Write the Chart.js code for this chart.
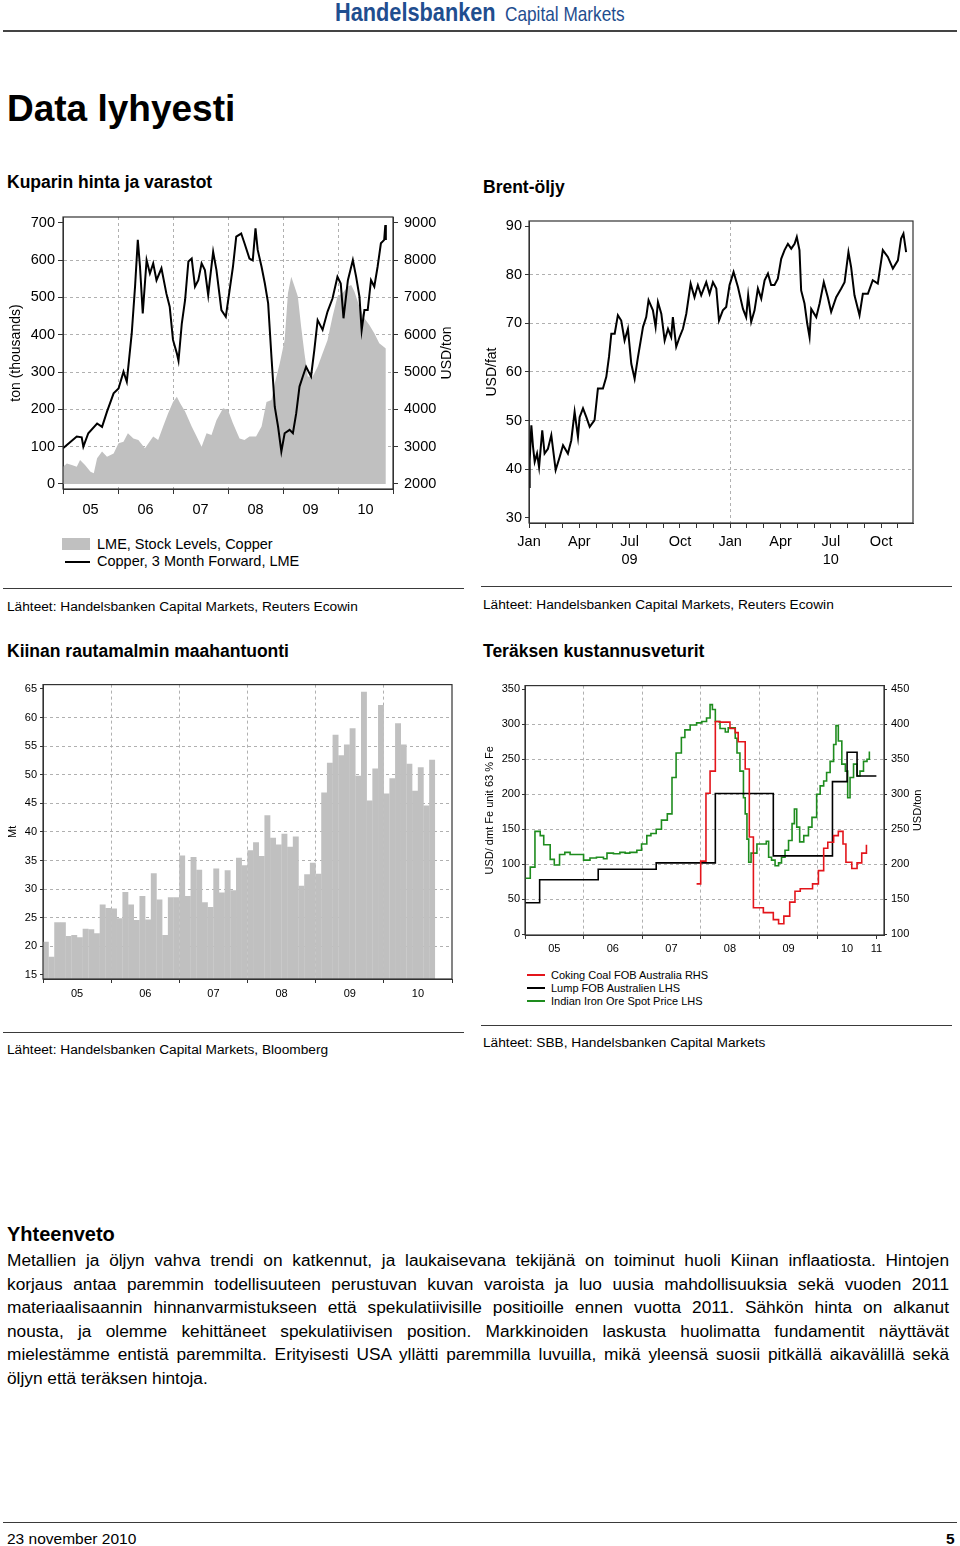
<!DOCTYPE html>
<html>
<head>
<meta charset="utf-8">
<title>Data lyhyesti</title>
<script src="https://cdn.jsdelivr.net/npm/chart.js"></script>
<style>
  body { margin:0; background:#fff; font-family:'Liberation Sans', Arial, sans-serif; color:#000; }
  #page { position:relative; width:960px; height:1546px; overflow:hidden; }
  .t { position:absolute; line-height:1; white-space:nowrap; }
  .b { font-weight:bold; }
  .h2 { font-size:17.5px; font-weight:bold; }
  .src { font-size:13.7px; }
  .rule { position:absolute; border-top:1.5px solid #3a3a3a; }
  canvas { position:absolute; }
  .para { position:absolute; left:7px; top:1249px; width:942px; font-size:17.3px; line-height:23.6px; }
  .para div { text-align:justify; text-align-last:justify; }
  .para div.last { text-align-last:left; }
  .key { position:absolute; }
</style>
</head>
<body>
<div id="page">
  <div class="t b" style="left:335px;top:-1.4px;font-size:26.5px;color:#1f4e8f;transform:scaleX(0.82);transform-origin:0 0">Handelsbanken</div>
  <div class="t" style="left:505px;top:3.2px;font-size:21px;color:#1f4e8f;transform:scaleX(0.82);transform-origin:0 0">Capital Markets</div>
  <div class="rule" style="left:3px;top:30px;width:954px;border-top-width:2px;border-color:#444"></div>

  <div class="t b" style="left:7px;top:90px;font-size:37px">Data lyhyesti</div>

  <div class="t h2" style="left:7px;top:174.4px">Kuparin hinta ja varastot</div>
  <div class="t h2" style="left:483px;top:179.4px">Brent-öljy</div>

  <canvas id="copper" width="470" height="319" style="left:0;top:200px"></canvas>
  <canvas id="brent" width="453" height="368" style="left:480px;top:205px"></canvas>

  <div class="key" style="left:62px;top:538px;width:28px;height:12px;background:#c0c0c0"></div>
  <div class="key" style="left:65px;top:561px;width:25px;height:2px;background:#000"></div>
  <div class="t" style="left:97px;top:536.9px;font-size:14.5px">LME, Stock Levels, Copper</div>
  <div class="t" style="left:97px;top:553.9px;font-size:14.5px">Copper, 3 Month Forward, LME</div>

  <div class="rule" style="left:3px;top:588px;width:461px"></div>
  <div class="rule" style="left:481px;top:586px;width:471px"></div>
  <div class="t src" style="left:7px;top:600.3px">Lähteet: Handelsbanken Capital Markets, Reuters Ecowin</div>
  <div class="t src" style="left:483px;top:598.3px">Lähteet: Handelsbanken Capital Markets, Reuters Ecowin</div>

  <div class="t h2" style="left:7px;top:643.4px">Kiinan rautamalmin maahantuonti</div>
  <div class="t h2" style="left:483px;top:643.4px">Teräksen kustannusveturit</div>

  <canvas id="imports" width="465" height="329" style="left:0;top:675px"></canvas>
  <canvas id="steel" width="450" height="282" style="left:480px;top:675px"></canvas>

  <div class="key" style="left:527px;top:974px;width:18px;height:2px;background:#e3151b"></div>
  <div class="key" style="left:527px;top:987px;width:18px;height:2px;background:#000"></div>
  <div class="key" style="left:527px;top:1000px;width:18px;height:2px;background:#1e8c1e"></div>
  <div class="t" style="left:551px;top:969.6px;font-size:11px">Coking Coal FOB Australia RHS</div>
  <div class="t" style="left:551px;top:982.6px;font-size:11px">Lump FOB Australien LHS</div>
  <div class="t" style="left:551px;top:995.6px;font-size:11px">Indian Iron Ore Spot Price LHS</div>

  <div class="rule" style="left:3px;top:1032px;width:461px"></div>
  <div class="rule" style="left:481px;top:1025px;width:471px"></div>
  <div class="t src" style="left:7px;top:1043.3px">Lähteet: Handelsbanken Capital Markets, Bloomberg</div>
  <div class="t src" style="left:483px;top:1036.3px">Lähteet: SBB, Handelsbanken Capital Markets</div>

  <div class="t b" style="left:7px;top:1224.2px;font-size:20px">Yhteenveto</div>
  <div class="para">
    <div>Metallien ja öljyn vahva trendi on katkennut, ja laukaisevana tekijänä on toiminut huoli Kiinan inflaatiosta. Hintojen</div>
    <div>korjaus antaa paremmin todellisuuteen perustuvan kuvan varoista ja luo uusia mahdollisuuksia sekä vuoden 2011</div>
    <div>materiaalisaannin hinnanvarmistukseen että spekulatiivisille positioille ennen vuotta 2011. Sähkön hinta on alkanut</div>
    <div>nousta, ja olemme kehittäneet spekulatiivisen position. Markkinoiden laskusta huolimatta fundamentit näyttävät</div>
    <div>mielestämme entistä paremmilta. Erityisesti USA yllätti paremmilla luvuilla, mikä yleensä suosii pitkällä aikavälillä sekä</div>
    <div class="last">öljyn että teräksen hintoja.</div>
  </div>

  <div class="rule" style="left:3px;top:1522px;width:954px"></div>
  <div class="t" style="left:7px;top:1531.4px;font-size:15.5px">23 november 2010</div>
  <div class="t b" style="left:946px;top:1531.4px;font-size:15.5px">5</div>
</div>

<script>
// Kuparin hinta ja varastot
const copperYears = [
  2005.00, 2005.07, 2005.25, 2005.34, 2005.37, 2005.46, 2005.62, 2005.71, 2005.80, 2005.92,
  2006.01, 2006.10, 2006.16, 2006.25, 2006.31, 2006.36, 2006.40, 2006.45, 2006.52, 2006.58,
  2006.64, 2006.70, 2006.79, 2006.88, 2006.94, 2007.00, 2007.07, 2007.10, 2007.16, 2007.22,
  2007.28, 2007.34, 2007.40, 2007.46, 2007.52, 2007.58, 2007.64, 2007.67, 2007.73, 2007.79,
  2007.88, 2007.96, 2008.03, 2008.09, 2008.15, 2008.24, 2008.30, 2008.39, 2008.45, 2008.50,
  2008.54, 2008.61, 2008.67, 2008.73, 2008.79, 2008.85, 2008.91, 2008.97, 2009.03, 2009.12,
  2009.18, 2009.24, 2009.30, 2009.36, 2009.42, 2009.51, 2009.57, 2009.63, 2009.72, 2009.81,
  2009.90, 2009.99, 2010.05, 2010.10, 2010.18, 2010.27, 2010.33, 2010.39, 2010.43, 2010.48,
  2010.54, 2010.60, 2010.66, 2010.72, 2010.78, 2010.84, 2010.86, 2010.87
];
const copperPrice = [
  2955, 3045, 3270, 3250, 3000, 3360, 3620, 3530, 3940, 4430,
  4560, 5010, 4740, 6040, 7290, 8540, 7820, 6570, 8000, 7640,
  7910, 7460, 7780, 7100, 6750, 5860, 5500, 5300, 6300, 6930,
  7960, 8040, 7290, 7460, 7910, 7730, 7060, 7460, 8220, 7730,
  6660, 6480, 7200, 7820, 8625, 8710, 8450, 8040, 7990, 8850,
  8270, 7820, 7370, 6840, 5410, 4070, 3540, 2870, 3360, 3450,
  3360, 3890, 4610, 4880, 5140, 4880, 5590, 6390, 6130, 6620,
  6970, 7550, 7370, 6440, 7460, 8000, 7550, 7020, 6120, 6660,
  6660, 7460, 7290, 7820, 8450, 8540, 8940, 8540
];
const stockYears = [
  2005.00, 2005.07, 2005.16, 2005.25, 2005.31, 2005.40, 2005.50, 2005.56, 2005.62, 2005.71,
  2005.80, 2005.92, 2006.01, 2006.10, 2006.18, 2006.28, 2006.37, 2006.49, 2006.64, 2006.73,
  2006.82, 2006.91, 2007.00, 2007.07, 2007.13, 2007.22, 2007.34, 2007.43, 2007.52, 2007.61,
  2007.70, 2007.79, 2007.91, 2008.00, 2008.09, 2008.21, 2008.30, 2008.39, 2008.51, 2008.61,
  2008.70, 2008.79, 2008.85, 2008.94, 2009.03, 2009.09, 2009.15, 2009.21, 2009.27, 2009.33,
  2009.39, 2009.45, 2009.54, 2009.63, 2009.72, 2009.81, 2009.90, 2009.99, 2010.08, 2010.18,
  2010.24, 2010.30, 2010.39, 2010.48, 2010.57, 2010.66, 2010.75, 2010.87
];
const stockLevel = [
  46, 55, 51, 46, 64, 51, 33, 29, 69, 87,
  73, 82, 109, 113, 136, 122, 118, 96, 127, 118,
  154, 189, 220, 234, 216, 194, 154, 127, 100, 136,
  131, 171, 203, 198, 163, 122, 118, 127, 127, 154,
  220, 225, 270, 323, 386, 511, 555, 529, 502, 421,
  350, 288, 288, 314, 350, 386, 448, 502, 511, 529,
  533, 515, 475, 444, 426, 404, 377, 363
];
const yearLabels = ['05', '06', '07', '08', '09', '10'];

// Brent-öljy, months counted from Jan 2009
const brentMonth = [
  0.00, 0.04, 0.14, 0.24, 0.34, 0.48, 0.60, 0.79, 0.93, 1.13,
  1.33, 1.59, 1.83, 2.03, 2.32, 2.52, 2.72, 2.92, 3.02, 3.22,
  3.42, 3.62, 3.91, 4.11, 4.41, 4.61, 4.77, 4.91, 5.11, 5.30,
  5.50, 5.70, 5.90, 6.10, 6.30, 6.50, 6.80, 6.99, 7.13, 7.39,
  7.55, 7.69, 7.89, 8.09, 8.29, 8.48, 8.58, 8.78, 8.98, 9.18,
  9.38, 9.64, 9.87, 10.07, 10.27, 10.57, 10.77, 10.97, 11.17, 11.33,
  11.56, 11.76, 11.96, 12.20, 12.46, 12.76, 12.95, 13.07, 13.25, 13.45,
  13.65, 13.85, 14.05, 14.25, 14.44, 14.64, 14.84, 15.04, 15.24, 15.44,
  15.64, 15.84, 15.97, 16.13, 16.23, 16.43, 16.59, 16.73, 16.83, 17.13,
  17.33, 17.58, 17.82, 18.02, 18.32, 18.62, 18.82, 19.05, 19.21, 19.41,
  19.71, 19.91, 20.21, 20.50, 20.80, 21.10, 21.40, 21.70, 22.00, 22.19,
  22.33, 22.49
];
const brentPrice = [
  36.3, 41.8, 49.0, 44.6, 41.5, 43.2, 40.4, 48.0, 43.2, 44.2,
  47.0, 39.8, 42.5, 44.9, 43.2, 45.9, 51.8, 46.6, 50.7, 52.5,
  50.7, 48.7, 50.1, 56.6, 56.6, 59.0, 63.1, 67.9, 67.9, 71.7,
  70.6, 66.5, 68.9, 61.7, 58.6, 63.1, 69.3, 71.3, 74.8, 72.7,
  69.3, 74.4, 72.0, 66.5, 68.9, 67.2, 71.3, 65.2, 67.2, 68.9,
  72.0, 78.2, 75.4, 77.9, 75.8, 78.5, 76.1, 78.5, 77.2, 70.6,
  72.7, 73.4, 77.9, 80.6, 77.5, 73.0, 71.3, 75.8, 70.3, 72.7,
  77.2, 75.1, 78.9, 80.3, 77.9, 77.9, 79.2, 83.3, 85.1, 86.4,
  85.4, 86.4, 87.8, 85.1, 76.8, 74.1, 70.0, 67.2, 73.0, 71.3,
  74.1, 78.5, 75.4, 72.4, 75.4, 77.2, 78.5, 84.7, 81.6, 75.8,
  71.7, 76.1, 76.1, 78.9, 78.2, 85.1, 83.7, 81.3, 83.0, 87.5,
  88.5, 84.7
];
const brentTickMonths = [0, 3, 6, 9, 12, 15, 18, 21];
const brentTickLabels = [['Jan'], ['Apr'], ['Jul', '09'], ['Oct'], ['Jan'], ['Apr'], ['Jul', '10'], ['Oct']];

// Kiinan rautamalmin maahantuonti, Mt per month from Jan 2005
const importStart = 2005;
const importMt = [
  20.8, 18.2, 24.2, 24.2, 21.8, 22.0, 21.6, 23.1, 23.0, 22.3, 27.3, 26.7,
  26.6, 24.9, 29.5, 27.3, 24.6, 28.8, 24.7, 32.8, 28.2, 22.0, 28.6, 28.6,
  35.9, 28.8, 35.6, 33.4, 27.7, 26.9, 33.6, 29.4, 33.3, 29.8, 35.5, 34.2,
  36.8, 38.2, 35.8, 42.9, 39.0, 37.8, 39.7, 37.4, 39.2, 30.6, 32.6, 34.6,
  32.7, 46.9, 52.1, 57.0, 53.4, 55.3, 58.1, 49.8, 64.5, 45.5, 51.1, 62.2,
  46.7, 49.4, 59.0, 55.3, 51.9, 47.2, 51.3, 44.6, 52.6
];

// Teräksen kustannusveturit
const lumpYears = [2005.00, 2005.25, 2006.25, 2007.24, 2008.25, 2009.24, 2010.25, 2010.50, 2010.67, 2011.00];
const lumpPrice = [45, 78, 93, 102, 201, 112, 218, 260, 226, 226];
const coalYears = [
  2007.93, 2008.00, 2008.09, 2008.16, 2008.25, 2008.32, 2008.50, 2008.59, 2008.64, 2008.76,
  2008.83, 2008.90, 2009.07, 2009.24, 2009.33, 2009.42, 2009.52, 2009.61, 2009.70, 2009.91,
  2010.01, 2010.10, 2010.17, 2010.27, 2010.35, 2010.43, 2010.48, 2010.58, 2010.67, 2010.75,
  2010.83
];
const coalPrice = [
  172, 204.5, 301.5, 333, 404, 403, 394, 388, 375, 336,
  239, 138, 131, 121, 115, 126, 146, 161.5, 165, 172,
  191, 223, 231.5, 241, 247, 229, 203, 194, 202, 216,
  228
];
const oreYears = [
  2005.00, 2005.09, 2005.17, 2005.26, 2005.32, 2005.43, 2005.50, 2005.59, 2005.68, 2005.77,
  2006.00, 2006.11, 2006.22, 2006.34, 2006.40, 2006.51, 2006.62, 2006.71, 2006.79, 2006.91,
  2006.99, 2007.08, 2007.15, 2007.24, 2007.33, 2007.43, 2007.51, 2007.58, 2007.67, 2007.73,
  2007.82, 2007.93, 2008.02, 2008.10, 2008.16, 2008.20, 2008.25, 2008.33, 2008.42, 2008.47,
  2008.59, 2008.62, 2008.67, 2008.73, 2008.76, 2008.79, 2008.82, 2008.86, 2008.96, 2009.12,
  2009.16, 2009.21, 2009.27, 2009.33, 2009.38, 2009.44, 2009.50, 2009.56, 2009.60, 2009.64,
  2009.69, 2009.76, 2009.84, 2009.90, 2009.98, 2010.04, 2010.10, 2010.15, 2010.21, 2010.27,
  2010.31, 2010.35, 2010.41, 2010.47, 2010.51, 2010.55, 2010.61, 2010.67, 2010.72, 2010.78,
  2010.84, 2010.88
];
const orePrice = [
  80, 96, 147, 141, 128, 107, 99, 114, 117, 114,
  106, 109, 110, 108, 116, 115, 117, 116, 117, 120,
  129, 141, 144, 150, 163, 172, 224, 259, 281, 292,
  299, 302, 304, 309, 328, 321, 304, 294, 289, 295,
  280, 259, 233, 195, 172, 136, 103, 116, 129, 133,
  110, 106, 98, 102, 110, 120, 134, 158, 179, 153,
  132, 141, 153, 167, 200, 212, 219, 231, 247, 271,
  298, 276, 243, 233, 195, 224, 243, 226, 233, 247,
  250, 261
];
const steelYearLabels = ['05', '06', '07', '08', '09', '10', '11'];


Chart.defaults.font.family = "'Liberation Sans', Arial, sans-serif";
Chart.defaults.color = '#000';
Chart.defaults.animation = false;
Chart.defaults.plugins.legend.display = false;
Chart.defaults.plugins.tooltip.enabled = false;

const dash = '#b0b0b0';
const clear = 'rgba(0,0,0,0)';
const axisCol = '#333';

const pts = (xs, ys) => xs.map((x, i) => ({x: x, y: ys[i]}));
const fixTicks = vals => scale => { scale.ticks = vals.map(v => ({value: v})); };
function range(a, b, s) {
  const r = [];
  for (let v = a; v <= b + 1e-9; v += s) r.push(+v.toFixed(2));
  return r;
}

// box round the plot area
const frame = {
  id: 'frame',
  afterDraw(chart) {
    const a = chart.chartArea, ctx = chart.ctx;
    ctx.save();
    ctx.strokeStyle = axisCol;
    ctx.lineWidth = 1.2;
    ctx.strokeRect(a.left, a.top, a.right - a.left, a.bottom - a.top);
    ctx.restore();
  }
};

// right hand axis titles read bottom to top in the original
const rightTitle = {
  id: 'rightTitle',
  afterDraw(chart, args, o) {
    if (!o || !o.text) return;
    const s = chart.scales.y1, ctx = chart.ctx;
    ctx.save();
    ctx.translate(s.right - o.inset, (s.top + s.bottom) / 2);
    ctx.rotate(-Math.PI / 2);
    ctx.font = o.size + "px 'Liberation Sans', Arial, sans-serif";
    ctx.fillStyle = '#000';
    ctx.textAlign = 'center';
    ctx.textBaseline = 'middle';
    ctx.fillText(o.text, 0, 0);
    ctx.restore();
  }
};

// year axis: tick marks on year boundaries, labels in the middle of the year
function yearAxis(max, labels, size, tickLen, pad, height, lastLabel) {
  return {
    type: 'linear', min: 2005, max: max, offset: false,
    afterBuildTicks: fixTicks(range(2005, 2011, 0.5)),
    afterFit: s => { s.height = height; },
    ticks: {
      autoSkip: false, maxRotation: 0, minRotation: 0, padding: pad, font: {size: size},
      callback: v => {
        const k = v - 2005;
        if (k % 1 === 0.5) return labels[Math.floor(k)];
        if (lastLabel && v === 2011) return lastLabel;
        return '';
      }
    },
    grid: {
      offset: false, tickLength: tickLen,
      color: c => (c.tick && c.tick.value % 1 === 0 && c.tick.value > 2005 && c.tick.value < 2011) ? dash : clear,
      tickColor: c => (c.tick && c.tick.value % 1 === 0) ? axisCol : clear
    },
    border: {color: axisCol, dash: [3, 3]}
  };
}

function valueAxis(pos, min, max, ticks, width, size, tickLen, pad, inner) {
  return {
    type: 'linear', position: pos, min: min, max: max,
    afterBuildTicks: fixTicks(ticks),
    afterFit: s => { s.width = width; },
    ticks: {padding: pad, font: {size: size}, callback: v => String(v)},
    grid: {
      drawOnChartArea: pos === 'left', tickLength: tickLen, tickColor: axisCol,
      color: c => (c.tick && inner.includes(c.tick.value)) ? dash : clear
    },
    border: {color: axisCol, dash: [3, 3]}
  };
}


// Kuparin hinta ja varastot
const copperY = valueAxis('left', -13.4, 715.3, range(0, 700, 100), 63, 14.5, 5, 3, range(100, 600, 100));
copperY.title = {display: true, text: 'ton (thousands)', font: {size: 14}, padding: {top: 7.6, bottom: 0}};

new Chart(document.getElementById('copper'), {
  type: 'line',
  data: {
    datasets: [
      {
        label: 'Copper, 3 Month Forward, LME',
        data: pts(copperYears, copperPrice),
        yAxisID: 'y1', borderColor: '#000', borderWidth: 2, pointRadius: 0, order: 0
      },
      {
        label: 'LME, Stock Levels, Copper',
        data: pts(stockYears, stockLevel),
        yAxisID: 'y', fill: 'origin', backgroundColor: '#c0c0c0', borderWidth: 0, pointRadius: 0, order: 1
      }
    ]
  },
  options: {
    responsive: false,
    layout: {padding: {top: 17, left: 0, right: 0, bottom: 0}},
    plugins: {rightTitle: {text: 'USD/ton', size: 14, inset: 23}},
    scales: {
      x: yearAxis(2011, yearLabels, 14.5, 5, 7, 30),
      y: copperY,
      y1: valueAxis('right', 1866, 9153, range(2000, 9000, 1000), 77, 14.5, 5, 6, [])
    }
  },
  plugins: [frame, rightTitle]
});


// Brent-öljy
const brentY = valueAxis('left', 28.9, 91.1, range(30, 90, 10), 49, 14.5, 4, 3, range(40, 80, 10));
brentY.title = {display: true, text: 'USD/fat', font: {size: 14}, padding: {top: 3.6, bottom: 0}};

new Chart(document.getElementById('brent'), {
  type: 'line',
  data: {
    datasets: [{
      label: 'Brent',
      data: pts(brentMonth, brentPrice),
      borderColor: '#000', borderWidth: 2, pointRadius: 0
    }]
  },
  options: {
    responsive: false,
    layout: {padding: {top: 16, left: 0, right: 20, bottom: 0}},
    scales: {
      x: {
        type: 'linear', min: 0, max: 22.9,
        afterBuildTicks: fixTicks(range(0, 22, 1)),
        afterFit: s => { s.height = 50; },
        ticks: {
          autoSkip: false, maxRotation: 0, minRotation: 0, padding: 5,
          font: {size: 14.5, lineHeight: 1.25},
          callback: v => {
            const i = brentTickMonths.indexOf(v);
            return i < 0 ? '' : brentTickLabels[i];
          }
        },
        grid: {tickLength: 5, tickColor: axisCol, color: c => (c.tick && c.tick.value === 12) ? dash : clear},
        border: {color: axisCol, dash: [3, 3]}
      },
      y: brentY
    }
  },
  plugins: [frame]
});


// Kiinan rautamalmin maahantuonti
const importY = valueAxis('left', 14.3, 65.75, range(15, 65, 5), 43, 11, 3, 3, range(20, 60, 5));
importY.title = {display: true, text: 'Mt', font: {size: 11}, padding: {top: 6.4, bottom: 0}};

new Chart(document.getElementById('imports'), {
  type: 'bar',
  data: {
    datasets: [{
      label: 'Iron ore imports',
      data: importMt.map((v, i) => ({x: importStart + (i + 0.5) / 12, y: v})),
      backgroundColor: '#c0c0c0', borderWidth: 0,
      barPercentage: 1.04, categoryPercentage: 1
    }]
  },
  options: {
    responsive: false,
    layout: {padding: {top: 9, left: 0, right: 13, bottom: 0}},
    scales: {
      x: yearAxis(2011, yearLabels, 11, 4, 4.4, 25),
      y: importY
    }
  },
  plugins: [frame]
});


// Teräksen kustannusveturit
const steelY = valueAxis('left', -1, 355.2, range(0, 350, 50), 45, 11, 3, 2, range(50, 300, 50));
steelY.title = {display: true, text: 'USD/ dmt Fe unit 63 % Fe', font: {size: 11}, padding: {top: 3.4, bottom: 0}};

new Chart(document.getElementById('steel'), {
  type: 'line',
  data: {
    datasets: [
      {
        label: 'Coking Coal FOB Australia RHS',
        data: pts(coalYears, coalPrice), yAxisID: 'y1',
        borderColor: '#e3151b', borderWidth: 1.6, pointRadius: 0, stepped: true
      },
      {
        label: 'Lump FOB Australien LHS',
        data: pts(lumpYears, lumpPrice), yAxisID: 'y',
        borderColor: '#000', borderWidth: 1.6, pointRadius: 0, stepped: true
      },
      {
        label: 'Indian Iron Ore Spot Price LHS',
        data: pts(oreYears, orePrice), yAxisID: 'y',
        borderColor: '#1e8c1e', borderWidth: 1.6, pointRadius: 0, stepped: true
      }
    ]
  },
  options: {
    responsive: false,
    layout: {padding: {top: 9, left: 0, right: 0, bottom: 0}},
    plugins: {rightTitle: {text: 'USD/ton', size: 11, inset: 12}},
    scales: {
      x: yearAxis(2011.13, steelYearLabels, 11, 4, 3.4, 22, '11'),
      y: steelY,
      y1: valueAxis('right', 99, 455.2, range(100, 450, 50), 46, 11, 3, 4, [])
    }
  },
  plugins: [frame, rightTitle]
});
</script>
</body>
</html>
